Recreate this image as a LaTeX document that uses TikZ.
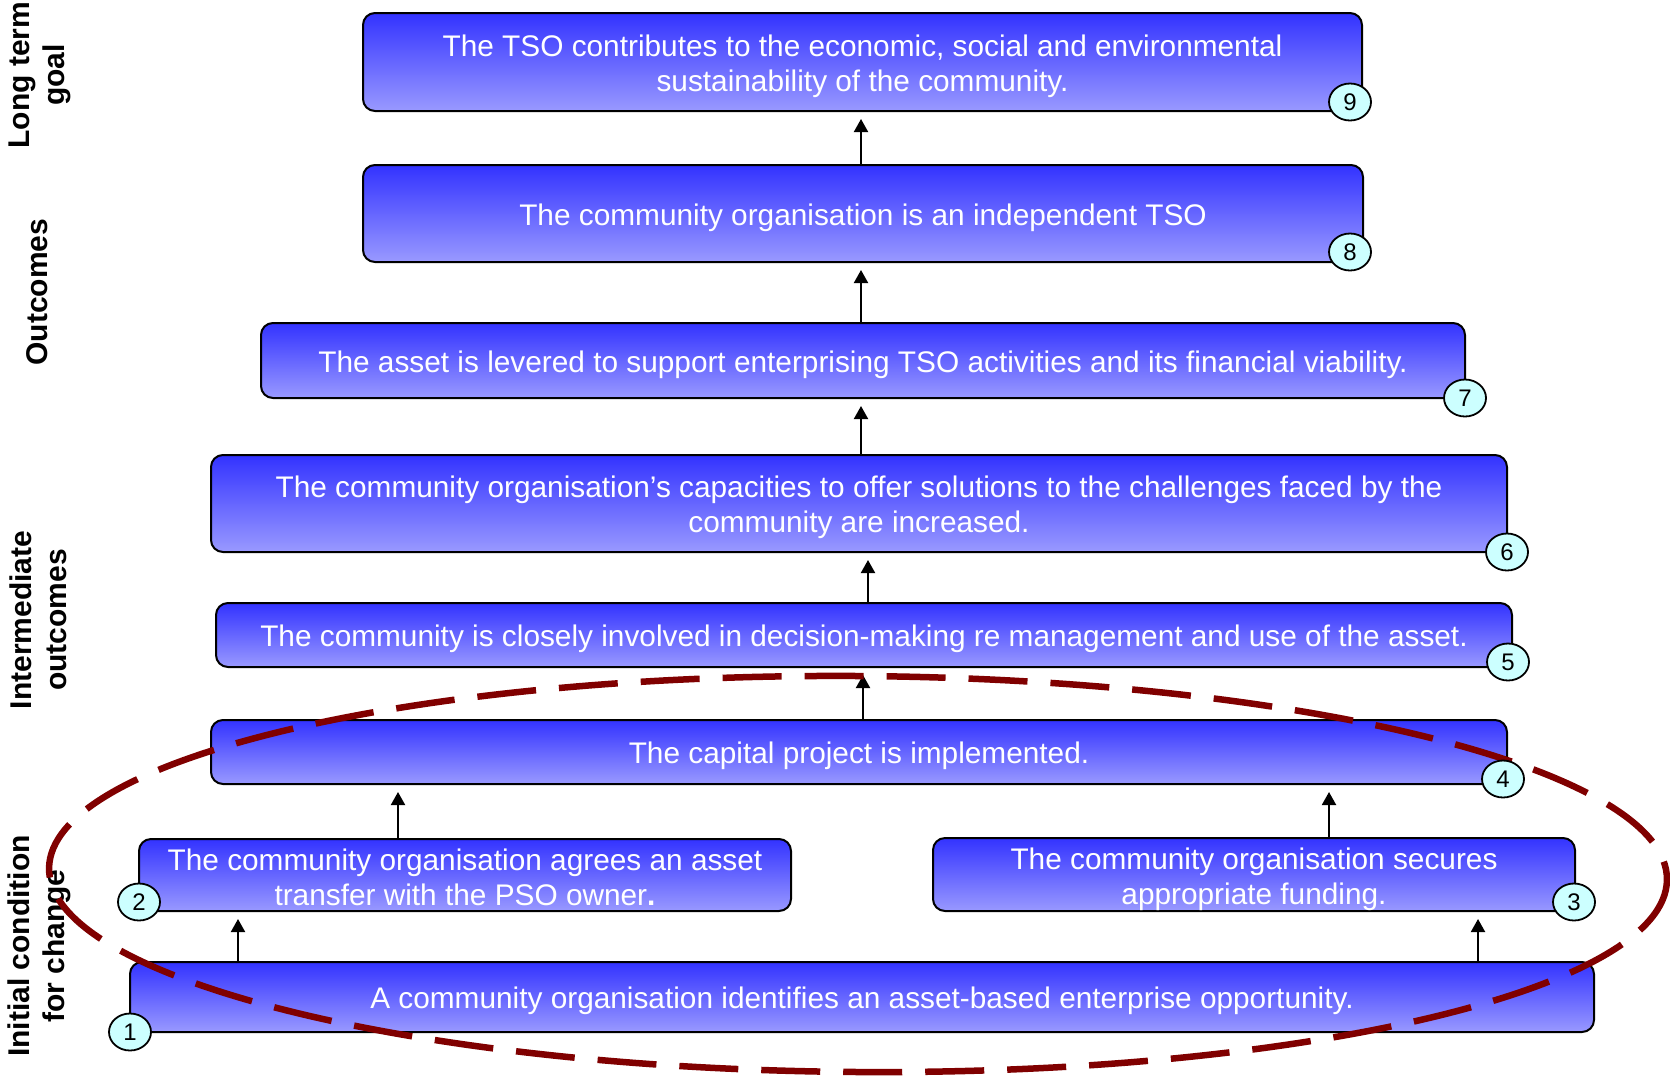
\documentclass[tikz,border=0pt]{standalone}
\usepackage{fontspec}
\setmainfont{Liberation Sans}
\usetikzlibrary{shapes.geometric,arrows.meta}
\definecolor{boxtop}{HTML}{3333FF}
\definecolor{boxbot}{HTML}{9999FF}
\definecolor{numfill}{HTML}{CCFFFF}
\definecolor{ovalred}{HTML}{800000}
\begin{document}
\begin{tikzpicture}[x=1pt,y=-1pt,
 box/.style={draw=black,line width=2pt,rounded corners=12pt,top color=boxtop,bottom color=boxbot,inner sep=0pt},
 boxtext/.style={text=white,align=center,inner sep=0pt,yshift=-4pt,font=\fontsize{29.8}{35}\selectfont},
 num/.style={ellipse,draw=black,line width=1.8pt,fill=numfill,minimum width=42pt,minimum height=37pt,inner sep=0pt,font=\fontsize{24}{24}\selectfont},
 lbl/.style={rotate=90,align=center,font=\bfseries\fontsize{30}{35}\selectfont},
 arr/.style={line width=2pt,-{Triangle[width=14pt,length=13pt]},shorten >=7pt},
 oval/.style={draw=ovalred,line width=6.5pt,dash pattern=on 59pt off 23pt}]
\useasboundingbox (0,0) rectangle (1670,1080);

% side labels
\node[lbl] (l1) at (40,75) {Long term\\goal};
\node[lbl] (l2) at (37,292) {Outcomes};
\node[lbl] (l3) at (38,620) {Intermediate\\outcomes};
\node[lbl] (l4) at (39,946) {Initial condition\\for change};

% boxes
\node[box,minimum width=999pt,minimum height=98pt,
  label={[boxtext]center:{The TSO contributes to the economic, social and environmental\\sustainability of the community.}}] (b9) at (862.5,62) {};
\node[box,minimum width=1000pt,minimum height=97pt,
  label={[boxtext]center:{The community organisation is an independent TSO}}] (b8) at (863,213.5) {};
\node[box,minimum width=1204pt,minimum height=75pt,
  label={[boxtext]center:{The asset is levered to support enterprising TSO activities and its financial viability.}}] (b7) at (863,360.5) {};
\node[box,minimum width=1296pt,minimum height=97pt,
  label={[boxtext]center:{The community organisation’s capacities to offer solutions to the challenges faced by the\\community are increased.}}] (b6) at (859,503.5) {};
\node[box,minimum width=1296pt,minimum height=64pt,
  label={[boxtext]center:{The community is closely involved in decision-making re management and use of the asset.}}] (b5) at (864,635) {};
\node[box,minimum width=1296pt,minimum height=64pt,
  label={[boxtext]center:{The capital project is implemented.}}] (b4) at (859,752) {};
\node[box,minimum width=652pt,minimum height=72pt,
  label={[boxtext,yshift=2pt]center:{The community organisation agrees an asset\\transfer with the PSO owner\textbf{.}}}] (b2) at (465,875) {};
\node[box,minimum width=642pt,minimum height=73pt,
  label={[boxtext,yshift=-1pt]center:{The community organisation secures\\appropriate funding.}}] (b3) at (1254,874.5) {};
\node[box,minimum width=1464pt,minimum height=70pt,
  label={[boxtext]center:{A community organisation identifies an asset-based enterprise opportunity.}}] (b1) at (862,997) {};

% arrows
\draw[arr] (b8.north -| 861,0) -- (b9.south -| 861,0);
\draw[arr] (b7.north -| 861,0) -- (b8.south -| 861,0);
\draw[arr] (b6.north -| 861,0) -- (b7.south -| 861,0);
\draw[arr] (b5.north -| 868,0) -- (b6.south -| 868,0);
\draw[arr] (b4.north -| 863,0) -- (b5.south -| 863,0);
\draw[arr] (b2.north -| 398,0) -- (b4.south -| 398,0);
\draw[arr] (b3.north -| 1329,0) -- (b4.south -| 1329,0);
\draw[arr] (b1.north -| 238,0) -- (b2.south -| 238,0);
\draw[arr] (b1.north -| 1478,0) -- (b3.south -| 1478,0);

% dashed oval
\draw[oval,rotate around={-0.4:(858,874)}] (858,874) ellipse [x radius=809, y radius=198];

% number markers
\node[num] (n9) at (1350,102) {9};
\node[num] (n8) at (1350,252) {8};
\node[num] (n7) at (1465,398) {7};
\node[num] (n6) at (1507,552) {6};
\node[num] (n5) at (1508,662) {5};
\node[num] (n4) at (1503,779) {4};
\node[num] (n3) at (1574,902) {3};
\node[num] (n2) at (139,902) {2};
\node[num] (n1) at (130,1032) {1};
\end{tikzpicture}
\end{document}
